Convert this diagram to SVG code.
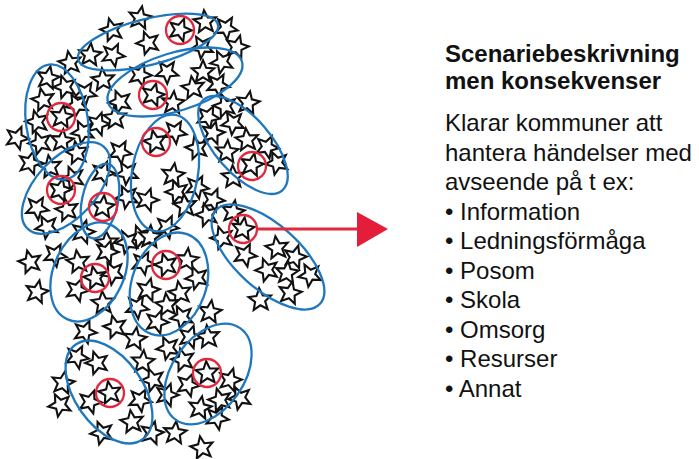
<svg xmlns="http://www.w3.org/2000/svg" xmlns:xlink="http://www.w3.org/1999/xlink" width="699" height="459" viewBox="0 0 699 459">
<defs>
<path id="st" d="M0,-11.8 L3.15,-4.3 L11.25,-3.65 L5.05,1.6 L6.95,9.55 L0,5.3 L-6.95,9.55 L-5.05,1.6 L-11.25,-3.65 L-3.15,-4.3Z"/>
</defs>
<style>
.s use{fill:#fff;stroke:#111;stroke-width:2.1;stroke-linejoin:miter}
.e{fill:none;stroke:#1f78be;stroke-width:2.3}
.r{fill:none;stroke:#e2283c;stroke-width:2.3}
.h{font-family:"Liberation Sans",Arial,sans-serif;font-weight:bold;font-size:24px;fill:#111}
.t{font-family:"Liberation Sans",Arial,sans-serif;font-size:24px;fill:#111}
</style>
<rect width="699" height="459" fill="#fff"/>
<g id="stars" class="s">
<use href="#st" transform="translate(140,18) rotate(10)"/>
<use href="#st" transform="translate(112,30) rotate(-15)"/>
<use href="#st" transform="translate(180,30) rotate(20)"/>
<use href="#st" transform="translate(205,22) rotate(-5)"/>
<use href="#st" transform="translate(226,28) rotate(30)"/>
<use href="#st" transform="translate(148,43) rotate(-20)"/>
<use href="#st" transform="translate(90,55) rotate(5)"/>
<use href="#st" transform="translate(113,55) rotate(25)"/>
<use href="#st" transform="translate(202,47) rotate(-30)"/>
<use href="#st" transform="translate(237,47) rotate(15)"/>
<use href="#st" transform="translate(70,63) rotate(-10)"/>
<use href="#st" transform="translate(167,72) rotate(35)"/>
<use href="#st" transform="translate(203,72) rotate(0)"/>
<use href="#st" transform="translate(222,62) rotate(-25)"/>
<use href="#st" transform="translate(140,75) rotate(20)"/>
<use href="#st" transform="translate(103,80) rotate(-5)"/>
<use href="#st" transform="translate(48,78) rotate(12)"/>
<use href="#st" transform="translate(65,87) rotate(-18)"/>
<use href="#st" transform="translate(218,85) rotate(28)"/>
<use href="#st" transform="translate(193,88) rotate(-8)"/>
<use href="#st" transform="translate(153,95) rotate(15)"/>
<use href="#st" transform="translate(120,102) rotate(-22)"/>
<use href="#st" transform="translate(173,103) rotate(5)"/>
<use href="#st" transform="translate(85,93) rotate(32)"/>
<use href="#st" transform="translate(43,100) rotate(-12)"/>
<use href="#st" transform="translate(98,124) rotate(18)"/>
<use href="#st" transform="translate(77,105) rotate(-28)"/>
<use href="#st" transform="translate(62,117) rotate(8)"/>
<use href="#st" transform="translate(37,122) rotate(-15)"/>
<use href="#st" transform="translate(17,138) rotate(22)"/>
<use href="#st" transform="translate(115,118) rotate(-4)"/>
<use href="#st" transform="translate(208,117) rotate(26)"/>
<use href="#st" transform="translate(225,106) rotate(-16)"/>
<use href="#st" transform="translate(248,103) rotate(10)"/>
<use href="#st" transform="translate(233,123) rotate(-30)"/>
<use href="#st" transform="translate(213,133) rotate(14)"/>
<use href="#st" transform="translate(247,140) rotate(-6)"/>
<use href="#st" transform="translate(267,147) rotate(24)"/>
<use href="#st" transform="translate(155,142) rotate(-12)"/>
<use href="#st" transform="translate(175,132) rotate(30)"/>
<use href="#st" transform="translate(40,143) rotate(-20)"/>
<use href="#st" transform="translate(62,141) rotate(6)"/>
<use href="#st" transform="translate(83,132) rotate(-26)"/>
<use href="#st" transform="translate(30,163) rotate(16)"/>
<use href="#st" transform="translate(77,153) rotate(-10)"/>
<use href="#st" transform="translate(120,152) rotate(28)"/>
<use href="#st" transform="translate(197,148) rotate(-14)"/>
<use href="#st" transform="translate(227,152) rotate(4)"/>
<use href="#st" transform="translate(277,163) rotate(-24)"/>
<use href="#st" transform="translate(252,165) rotate(12)"/>
<use href="#st" transform="translate(50,167) rotate(-8)"/>
<use href="#st" transform="translate(103,173) rotate(20)"/>
<use href="#st" transform="translate(127,173) rotate(-30)"/>
<use href="#st" transform="translate(173,175) rotate(8)"/>
<use href="#st" transform="translate(177,192) rotate(-18)"/>
<use href="#st" transform="translate(197,187) rotate(26)"/>
<use href="#st" transform="translate(233,177) rotate(-2)"/>
<use href="#st" transform="translate(60,190) rotate(14)"/>
<use href="#st" transform="translate(73,178) rotate(-22)"/>
<use href="#st" transform="translate(37,208) rotate(30)"/>
<use href="#st" transform="translate(67,210) rotate(-12)"/>
<use href="#st" transform="translate(103,207) rotate(6)"/>
<use href="#st" transform="translate(127,197) rotate(-26)"/>
<use href="#st" transform="translate(147,200) rotate(18)"/>
<use href="#st" transform="translate(185,206) rotate(-6)"/>
<use href="#st" transform="translate(213,200) rotate(22)"/>
<use href="#st" transform="translate(207,215) rotate(-16)"/>
<use href="#st" transform="translate(233,212) rotate(10)"/>
<use href="#st" transform="translate(47,227) rotate(-28)"/>
<use href="#st" transform="translate(83,232) rotate(16)"/>
<use href="#st" transform="translate(107,243) rotate(-4)"/>
<use href="#st" transform="translate(167,227) rotate(24)"/>
<use href="#st" transform="translate(140,237) rotate(-20)"/>
<use href="#st" transform="translate(243,229) rotate(8)"/>
<use href="#st" transform="translate(30,262) rotate(-14)"/>
<use href="#st" transform="translate(55,255) rotate(28)"/>
<use href="#st" transform="translate(78,262) rotate(-8)"/>
<use href="#st" transform="translate(107,252) rotate(18)"/>
<use href="#st" transform="translate(127,242) rotate(-24)"/>
<use href="#st" transform="translate(150,237) rotate(4)"/>
<use href="#st" transform="translate(95,278) rotate(-12)"/>
<use href="#st" transform="translate(77,290) rotate(22)"/>
<use href="#st" transform="translate(113,273) rotate(-28)"/>
<use href="#st" transform="translate(37,292) rotate(12)"/>
<use href="#st" transform="translate(103,303) rotate(-4)"/>
<use href="#st" transform="translate(143,263) rotate(26)"/>
<use href="#st" transform="translate(166,265) rotate(-16)"/>
<use href="#st" transform="translate(187,260) rotate(6)"/>
<use href="#st" transform="translate(197,278) rotate(-22)"/>
<use href="#st" transform="translate(148,290) rotate(14)"/>
<use href="#st" transform="translate(180,293) rotate(-10)"/>
<use href="#st" transform="translate(137,307) rotate(30)"/>
<use href="#st" transform="translate(167,305) rotate(-6)"/>
<use href="#st" transform="translate(157,322) rotate(20)"/>
<use href="#st" transform="translate(182,317) rotate(-26)"/>
<use href="#st" transform="translate(210,312) rotate(8)"/>
<use href="#st" transform="translate(222,238) rotate(-18)"/>
<use href="#st" transform="translate(245,255) rotate(24)"/>
<use href="#st" transform="translate(277,248) rotate(-8)"/>
<use href="#st" transform="translate(295,257) rotate(16)"/>
<use href="#st" transform="translate(267,270) rotate(-20)"/>
<use href="#st" transform="translate(287,273) rotate(6)"/>
<use href="#st" transform="translate(310,275) rotate(-28)"/>
<use href="#st" transform="translate(290,293) rotate(12)"/>
<use href="#st" transform="translate(260,300) rotate(-4)"/>
<use href="#st" transform="translate(85,332) rotate(22)"/>
<use href="#st" transform="translate(115,327) rotate(-14)"/>
<use href="#st" transform="translate(135,339) rotate(8)"/>
<use href="#st" transform="translate(168,348) rotate(-24)"/>
<use href="#st" transform="translate(190,337) rotate(18)"/>
<use href="#st" transform="translate(208,337) rotate(-6)"/>
<use href="#st" transform="translate(77,357) rotate(26)"/>
<use href="#st" transform="translate(97,363) rotate(-18)"/>
<use href="#st" transform="translate(63,383) rotate(10)"/>
<use href="#st" transform="translate(110,393) rotate(-10)"/>
<use href="#st" transform="translate(90,402) rotate(20)"/>
<use href="#st" transform="translate(60,405) rotate(-26)"/>
<use href="#st" transform="translate(143,362) rotate(4)"/>
<use href="#st" transform="translate(153,380) rotate(-20)"/>
<use href="#st" transform="translate(140,400) rotate(28)"/>
<use href="#st" transform="translate(132,422) rotate(-8)"/>
<use href="#st" transform="translate(152,433) rotate(14)"/>
<use href="#st" transform="translate(102,433) rotate(-22)"/>
<use href="#st" transform="translate(175,433) rotate(6)"/>
<use href="#st" transform="translate(183,360) rotate(-14)"/>
<use href="#st" transform="translate(188,385) rotate(22)"/>
<use href="#st" transform="translate(207,373) rotate(-4)"/>
<use href="#st" transform="translate(230,380) rotate(16)"/>
<use href="#st" transform="translate(240,398) rotate(-24)"/>
<use href="#st" transform="translate(200,408) rotate(10)"/>
<use href="#st" transform="translate(220,400) rotate(-16)"/>
<use href="#st" transform="translate(217,418) rotate(26)"/>
<use href="#st" transform="translate(202,448) rotate(-10)"/>
<use href="#st" transform="translate(167,395) rotate(18)"/>
</g>
<g id="clusters" class="e">
<ellipse cx="148" cy="42" rx="72" ry="23" transform="rotate(-14 148 42)"/>
<ellipse cx="175" cy="82" rx="70" ry="29" transform="rotate(-17 175 82)"/>
<ellipse cx="57" cy="122" rx="31" ry="58" transform="rotate(-8 57 122)"/>
<ellipse cx="165" cy="173" rx="33" ry="59" transform="rotate(10 165 173)"/>
<ellipse cx="243" cy="145" rx="60" ry="28" transform="rotate(49 243 145)"/>
<ellipse cx="66" cy="188" rx="30" ry="56" transform="rotate(43 66 188)"/>
<ellipse cx="100" cy="201" rx="18" ry="38" transform="rotate(12 100 201)"/>
<ellipse cx="89" cy="272" rx="35" ry="52" transform="rotate(25 89 272)"/>
<ellipse cx="169" cy="284" rx="37" ry="53" transform="rotate(20 169 284)"/>
<ellipse cx="268" cy="257" rx="70" ry="32" transform="rotate(42 268 257)"/>
<ellipse cx="109" cy="392" rx="34" ry="58" transform="rotate(-35 109 392)"/>
<ellipse cx="208" cy="374" rx="36" ry="56" transform="rotate(35 208 374)"/>
</g>
<g id="selected" class="r">
<circle cx="180" cy="30" r="14"/>
<circle cx="153" cy="95" r="14"/>
<circle cx="61" cy="117" r="14"/>
<circle cx="156" cy="142" r="14"/>
<circle cx="252" cy="166" r="14"/>
<circle cx="61" cy="190" r="14"/>
<circle cx="103" cy="207" r="14"/>
<circle cx="243" cy="229" r="14"/>
<circle cx="95" cy="278" r="14"/>
<circle cx="166" cy="265" r="14"/>
<circle cx="110" cy="393" r="14"/>
<circle cx="207" cy="373" r="14"/>
</g>
<g id="connectors">
<line x1="257" y1="229" x2="359" y2="229" stroke="#e2283c" stroke-width="3"/>
<polygon points="357,212 388,229 357,247" fill="#e41e3a"/>
</g>
<g id="text">
<text class="h" x="445" y="62">Scenariebeskrivning</text>
<text class="h" x="445" y="89">men konsekvenser</text>
<text class="t" x="445" y="131">Klarar kommuner att</text>
<text class="t" x="445" y="160.5">hantera händelser med</text>
<text class="t" x="445" y="190">avseende på t ex:</text>
<text class="t" x="445" y="219.5">• Information</text>
<text class="t" x="445" y="249">• Ledningsförmåga</text>
<text class="t" x="445" y="278.5">• Posom</text>
<text class="t" x="445" y="308">• Skola</text>
<text class="t" x="445" y="337.5">• Omsorg</text>
<text class="t" x="445" y="367">• Resurser</text>
<text class="t" x="445" y="396.5">• Annat</text>
</g>
</svg>
